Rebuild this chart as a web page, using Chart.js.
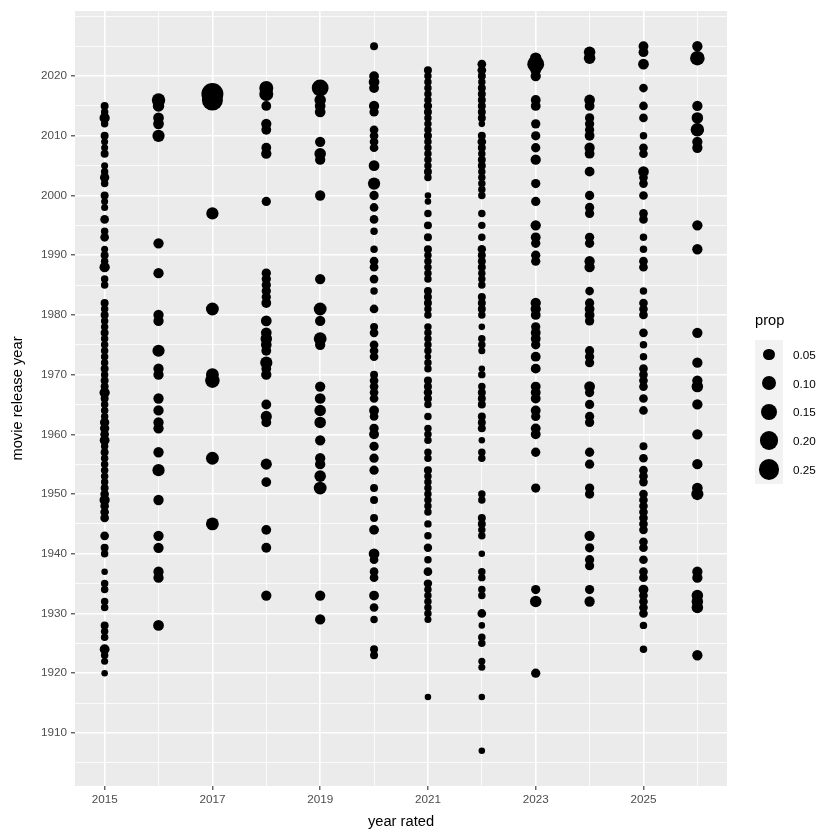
<!DOCTYPE html>
<html>
<head>
<meta charset="utf-8">
<script src="https://cdn.jsdelivr.net/npm/chart.js@4/dist/chart.umd.min.js"></script>
<style>
html,body{margin:0;padding:0;background:#fff;}
#wrap{position:relative;width:840px;height:840px;}
#legend{position:absolute;left:755px;top:309px;font-family:"Liberation Sans",Arial,sans-serif;}
#legend .ttl{font-size:14.7px;color:#000;height:22px;line-height:22px;margin-bottom:9px;}
#legend .row{display:flex;align-items:center;height:28.8px;}
#legend .key{position:relative;width:28px;height:28.8px;background:#F2F2F2;}
#legend .dot{position:absolute;background:#000;border-radius:50%;}
#legend .lab{font-size:11.7px;color:#000;margin-left:10px;}
</style>
</head>
<body>
<div id="wrap">
<canvas id="c" width="840" height="840"></canvas>
<div id="legend"></div>
</div>
<script>
// ---------- data ----------
const ratedYears = [2015,2016,2017,2018,2019,2020,2021,2022,2023,2024,2025,2026];
const xTickValues = [2015,2016,2017,2018,2019,2020,2021,2022,2023,2024,2025,2026];
const xTickLabels = [2015,2017,2019,2021,2023,2025];
const yTickValues = [1905,1910,1915,1920,1925,1930,1935,1940,1945,1950,1955,1960,1965,1970,1975,1980,1985,1990,1995,2000,2005,2010,2015,2020,2025,2030];
const yTickLabels = [1910,1920,1930,1940,1950,1960,1970,1980,1990,2000,2010,2020];
const legendProps = [0.05,0.10,0.15,0.20,0.25];

const rel2015 = [2015,2014,2013,2012,2010,2009,2008,2007,2005,2004,
  2003,2002,2000,1999,1998,1996,1994,1993,1991,1990,
  1989,1988,1986,1985,1982,1981,1980,1979,1978,1977,
  1976,1975,1974,1973,1972,1971,1970,1969,1968,1967,
  1966,1965,1964,1963,1962,1961,1960,1959,1958,1957,
  1956,1955,1954,1953,1952,1951,1950,1949,1948,1947,
  1946,1943,1941,1940,1937,1935,1934,1932,1931,1928,
  1927,1926,1924,1923,1922,1920];
const prop2015 = [0.015,0.012,0.035,0.012,0.015,0.01,0.01,0.015,0.01,0.012,
  0.025,0.012,0.015,0.01,0.01,0.02,0.012,0.02,0.01,0.015,
  0.012,0.035,0.012,0.012,0.015,0.012,0.015,0.012,0.012,0.015,
  0.012,0.012,0.012,0.012,0.012,0.015,0.012,0.015,0.015,0.035,
  0.015,0.012,0.012,0.012,0.025,0.025,0.02,0.03,0.012,0.015,
  0.012,0.012,0.012,0.012,0.012,0.015,0.02,0.035,0.02,0.02,
  0.02,0.02,0.015,0.012,0.008,0.012,0.012,0.012,0.012,0.015,
  0.012,0.012,0.03,0.012,0.01,0.008];

const rel2016 = [2016,2015,2013,2012,2010,1992,1987,1980,1979,1974,1971,1970,1966,1964,1962,1961,1957,1954,1949,1943,1941,1937,1936,1928];
const prop2016 = [0.08,0.05,0.04,0.04,0.06,0.035,0.035,0.035,0.035,0.06,0.035,0.035,0.035,0.035,0.035,0.035,0.035,0.06,0.035,0.035,0.035,0.035,0.035,0.04];

const rel2017 = [2017,2016,1997,1981,1970,1969,1956,1945];
const prop2017 = [0.3,0.27,0.06,0.07,0.07,0.1,0.07,0.07];

const rel2018 = [2018,2017,2015,2012,2011,2008,2007,1999,1987,1986,1985,1984,1983,1982,1979,1977,1976,1975,1974,1972,1971,1970,1965,1963,1962,1955,1952,1944,1941,1933];
const prop2018 = [0.09,0.09,0.03,0.035,0.03,0.03,0.035,0.025,0.025,0.025,0.025,0.025,0.025,0.03,0.04,0.04,0.05,0.04,0.03,0.06,0.03,0.035,0.03,0.045,0.03,0.045,0.03,0.03,0.03,0.035];

const rel2019 = [2018,2016,2015,2014,2009,2007,2006,2000,1986,1981,1979,1976,1975,1968,1966,1964,1962,1959,1956,1955,1953,1951,1933,1929];
const prop2019 = [0.15,0.05,0.04,0.04,0.035,0.05,0.035,0.035,0.035,0.07,0.035,0.07,0.035,0.035,0.04,0.05,0.05,0.035,0.035,0.035,0.05,0.07,0.035,0.035];

const rel2020 = [2025,2020,2019,2018,2015,2014,2011,2010,2009,2008,
  2005,2002,2000,1998,1996,1994,1991,1989,1988,1986,
  1984,1981,1978,1977,1975,1974,1973,1970,1969,1968,
  1967,1966,1964,1963,1961,1960,1958,1956,1954,1951,
  1949,1946,1944,1940,1939,1937,1936,1933,1931,1929,
  1924,1923];
const prop2020 = [0.015,0.03,0.04,0.03,0.035,0.025,0.02,0.02,0.02,0.02,
  0.04,0.06,0.025,0.02,0.02,0.012,0.012,0.02,0.02,0.02,
  0.012,0.02,0.015,0.02,0.02,0.02,0.02,0.015,0.02,0.02,
  0.02,0.02,0.03,0.02,0.025,0.03,0.025,0.025,0.025,0.015,
  0.015,0.015,0.03,0.04,0.02,0.02,0.02,0.03,0.02,0.012,
  0.015,0.015];

const rel2021 = [2021,2020,2019,2018,2017,2016,2015,2014,2013,2012,
  2011,2010,2009,2008,2007,2006,2005,2004,2003,2000,
  1999,1997,1995,1993,1991,1990,1989,1988,1987,1986,
  1984,1983,1982,1981,1980,1978,1977,1976,1975,1974,
  1973,1972,1971,1969,1968,1967,1966,1965,1963,1961,
  1960,1959,1957,1956,1954,1953,1952,1951,1950,1949,
  1948,1947,1945,1943,1941,1939,1937,1935,1934,1933,
  1932,1931,1930,1929,1916];
const prop2021 = [0.015,0.012,0.012,0.012,0.012,0.012,0.018,0.015,0.012,0.012,
  0.012,0.015,0.012,0.012,0.012,0.012,0.012,0.015,0.012,0.008,
  0.008,0.012,0.015,0.015,0.015,0.012,0.012,0.012,0.012,0.012,
  0.015,0.015,0.015,0.012,0.012,0.012,0.012,0.012,0.012,0.012,
  0.008,0.012,0.012,0.015,0.015,0.018,0.015,0.012,0.012,0.012,
  0.012,0.012,0.012,0.012,0.015,0.012,0.012,0.012,0.012,0.012,
  0.012,0.012,0.012,0.012,0.018,0.012,0.02,0.018,0.012,0.012,
  0.012,0.012,0.012,0.01,0.008];

const rel2022 = [2022,2021,2020,2019,2018,2017,2016,2015,2014,2013,
  2012,2010,2009,2008,2007,2006,2005,2004,2003,2002,
  2001,2000,1997,1995,1993,1991,1990,1989,1988,1987,
  1986,1985,1983,1982,1981,1980,1978,1976,1975,1974,
  1971,1970,1968,1967,1966,1965,1963,1962,1961,1959,
  1957,1956,1950,1949,1946,1945,1944,1943,1940,1937,
  1936,1934,1933,1930,1928,1926,1925,1922,1921,1916,
  1907];
const prop2022 = [0.02,0.02,0.015,0.012,0.015,0.015,0.015,0.015,0.015,0.015,
  0.008,0.015,0.02,0.015,0.012,0.015,0.015,0.012,0.012,0.012,
  0.012,0.012,0.012,0.012,0.012,0.018,0.015,0.015,0.015,0.012,
  0.012,0.012,0.015,0.015,0.015,0.012,0.008,0.012,0.012,0.01,
  0.008,0.012,0.012,0.015,0.015,0.015,0.015,0.015,0.015,0.008,
  0.012,0.012,0.012,0.012,0.015,0.015,0.012,0.012,0.008,0.012,
  0.012,0.012,0.012,0.02,0.008,0.012,0.012,0.01,0.01,0.008,
  0.008];

const rel2023 = [2023,2022,2021,2020,2016,2015,2012,2010,2008,2006,
  2002,1999,1995,1993,1992,1990,1989,1982,1981,1980,
  1978,1977,1976,1975,1973,1971,1968,1967,1966,1964,
  1963,1961,1960,1957,1951,1934,1932,1920];
const prop2023 = [0.05,0.15,0.04,0.035,0.03,0.03,0.025,0.025,0.025,0.035,
  0.025,0.025,0.035,0.03,0.025,0.025,0.025,0.035,0.035,0.03,
  0.025,0.03,0.03,0.025,0.03,0.03,0.03,0.03,0.03,0.03,
  0.025,0.03,0.03,0.025,0.025,0.025,0.05,0.025];

const rel2024 = [2024,2023,2016,2015,2013,2012,2011,2010,2008,2007,
  2004,2000,1998,1997,1993,1992,1989,1988,1984,1982,
  1981,1980,1979,1974,1973,1972,1968,1967,1965,1963,
  1962,1957,1955,1951,1950,1943,1941,1939,1938,1934,
  1932];
const prop2024 = [0.05,0.05,0.04,0.03,0.025,0.025,0.025,0.03,0.035,0.03,
  0.03,0.025,0.025,0.025,0.025,0.025,0.035,0.035,0.02,0.025,
  0.03,0.03,0.025,0.025,0.025,0.025,0.04,0.025,0.025,0.025,
  0.025,0.025,0.025,0.025,0.025,0.035,0.025,0.025,0.025,0.025,
  0.035];

const rel2025 = [2025,2024,2022,2018,2015,2013,2010,2008,2007,2004,
  2003,2002,2000,1997,1996,1993,1991,1989,1988,1984,
  1982,1981,1980,1977,1975,1973,1971,1970,1969,1968,
  1966,1964,1958,1956,1954,1953,1952,1950,1949,1948,
  1947,1946,1945,1944,1942,1941,1939,1937,1936,1934,
  1933,1932,1931,1930,1928,1924];
const prop2025 = [0.03,0.03,0.04,0.02,0.02,0.02,0.012,0.02,0.02,0.04,
  0.02,0.02,0.02,0.02,0.02,0.012,0.012,0.02,0.02,0.012,
  0.02,0.02,0.02,0.02,0.012,0.012,0.02,0.02,0.02,0.02,
  0.02,0.02,0.015,0.02,0.02,0.02,0.02,0.02,0.02,0.02,
  0.02,0.02,0.02,0.02,0.02,0.02,0.02,0.02,0.02,0.03,
  0.02,0.02,0.02,0.02,0.012,0.012];

const rel2026 = [2025,2023,2015,2013,2011,2009,2008,1995,1991,1977,1972,1969,1968,1965,1960,1955,1951,1950,1937,1936,1933,1932,1931,1923];
const prop2026 = [0.035,0.1,0.035,0.05,0.08,0.035,0.035,0.035,0.035,0.035,0.035,0.035,0.05,0.035,0.035,0.035,0.04,0.06,0.035,0.035,0.05,0.05,0.05,0.035];

const releaseByRated = [rel2015,rel2016,rel2017,rel2018,rel2019,rel2020,rel2021,rel2022,rel2023,rel2024,rel2025,rel2026];
const propByRated = [prop2015,prop2016,prop2017,prop2018,prop2019,prop2020,prop2021,prop2022,prop2023,prop2024,prop2025,prop2026];

// ---------- build ----------
const FONT = '"Liberation Sans", Arial, sans-serif';
function radiusFor(p){ return 2.4 + 8.6*Math.sqrt(Math.max(0, p - 0.005)/0.295); }

const points = [];
ratedYears.forEach((yr, i) => {
  releaseByRated[i].forEach((ry, j) => points.push({x: yr, y: ry, p: propByRated[i][j]}));
});

const panelBg = {
  id: 'panelBg',
  beforeDraw(chart){
    const {ctx, chartArea: a} = chart;
    ctx.save();
    ctx.fillStyle = '#EBEBEB';
    ctx.fillRect(a.left, a.top, a.right - a.left, a.bottom - a.top);
    ctx.restore();
  }
};

new Chart(document.getElementById('c'), {
  type: 'scatter',
  data: {
    datasets: [{
      data: points,
      backgroundColor: '#000000',
      borderWidth: 0,
      pointRadius: c => radiusFor(c.raw ? c.raw.p : 0.01),
      pointHoverRadius: c => radiusFor(c.raw ? c.raw.p : 0.01)
    }]
  },
  options: {
    responsive: false,
    animation: false,
    events: [],
    layout: {padding: {top: 9, right: 113, bottom: 0, left: 0}},
    plugins: {legend: {display: false}, tooltip: {enabled: false}},
    scales: {
      x: {
        type: 'linear', min: 2014.45, max: 2026.55,
        afterBuildTicks: s => { s.ticks = xTickValues.map(v => ({value: v})); },
        afterFit: s => { s.height = 54; },
        border: {display: false},
        grid: {
          color: '#FFFFFF',
          lineWidth: c => xTickLabels.includes(c.tick && c.tick.value) ? 1.6 : 0.8,
          drawTicks: true, tickLength: 4, tickWidth: 1.1,
          tickColor: c => xTickLabels.includes(c.tick && c.tick.value) ? '#333333' : 'rgba(0,0,0,0)'
        },
        ticks: {
          autoSkip: false, maxRotation: 0, padding: 3,
          color: '#4D4D4D', font: {family: FONT, size: 11.7},
          callback: v => xTickLabels.includes(v) ? String(v) : ''
        },
        title: {display: true, text: 'year rated', color: '#000000', font: {family: FONT, size: 14.7}, padding: {top: 0, bottom: 9}}
      },
      y: {
        type: 'linear', min: 1901.1, max: 2030.9,
        afterBuildTicks: s => { s.ticks = yTickValues.map(v => ({value: v})); },
        afterFit: s => { s.width = 75; },
        border: {display: false},
        grid: {
          color: '#FFFFFF',
          lineWidth: c => yTickLabels.includes(c.tick && c.tick.value) ? 1.6 : 0.8,
          drawTicks: true, tickLength: 4, tickWidth: 1.1,
          tickColor: c => yTickLabels.includes(c.tick && c.tick.value) ? '#333333' : 'rgba(0,0,0,0)'
        },
        ticks: {
          autoSkip: false, padding: 4,
          color: '#4D4D4D', font: {family: FONT, size: 11.7},
          callback: v => yTickLabels.includes(v) ? String(v) : ''
        },
        title: {display: true, text: 'movie release year', color: '#000000', font: {family: FONT, size: 14.7}, padding: {top: 9, bottom: 0}}
      }
    }
  },
  plugins: [panelBg]
});

// ---------- legend ----------
const lg = document.getElementById('legend');
const t = document.createElement('div'); t.className = 'ttl'; t.textContent = 'prop'; lg.appendChild(t);
legendProps.forEach(p => {
  const row = document.createElement('div'); row.className = 'row';
  const key = document.createElement('div'); key.className = 'key';
  const d = document.createElement('div'); d.className = 'dot';
  const r = radiusFor(p);
  d.style.width = (2*r) + 'px'; d.style.height = (2*r) + 'px';
  d.style.left = (14 - r) + 'px'; d.style.top = (14.4 - r) + 'px';
  key.appendChild(d);
  const lab = document.createElement('span'); lab.className = 'lab'; lab.textContent = p.toFixed(2);
  row.appendChild(key); row.appendChild(lab);
  lg.appendChild(row);
});
</script>
</body>
</html>
